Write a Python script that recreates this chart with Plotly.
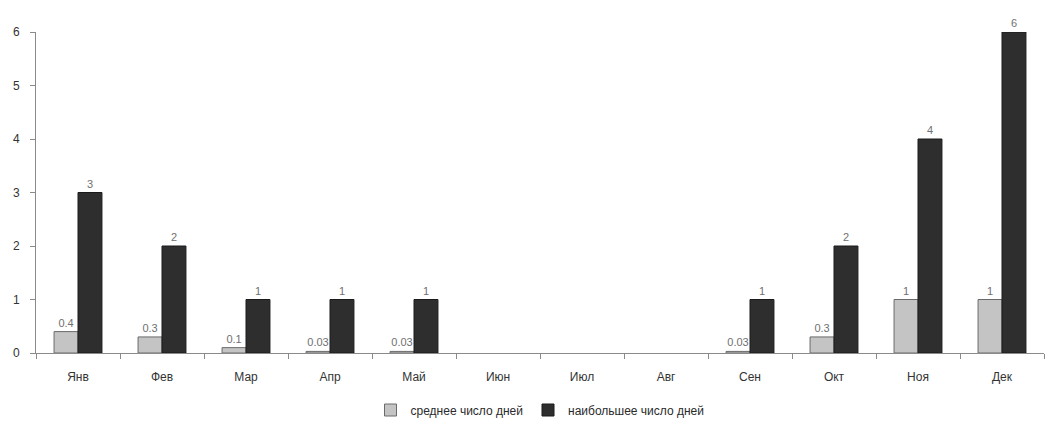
import plotly.graph_objects as go

months = ["Янв", "Фев", "Мар", "Апр", "Май", "Июн", "Июл", "Авг", "Сен", "Окт", "Ноя", "Дек"]
avg_days = [0.4, 0.3, 0.1, 0.03, 0.03, None, None, None, 0.03, 0.3, 1, 1]
max_days = [3, 2, 1, 1, 1, None, None, None, 1, 2, 4, 6]
avg_name = "среднее число дней"
max_name = "наибольшее число дней"


def labels(vals):
    return ["" if v is None else f"{v:g}" for v in vals]


fig = go.Figure()
fig.add_trace(go.Bar(
    x=months, y=avg_days, name=avg_name,
    marker=dict(color="#c4c4c4", line=dict(color="#6a6a6a", width=1)),
    text=labels(avg_days), textposition="outside",
    textfont=dict(color="#707070", size=11), cliponaxis=False,
))
fig.add_trace(go.Bar(
    x=months, y=max_days, name=max_name,
    marker=dict(color="#2e2e2e", line=dict(color="#1a1a1a", width=1)),
    text=labels(max_days), textposition="outside",
    textfont=dict(color="#707070", size=11), cliponaxis=False,
))

fig.update_layout(
    width=1046, height=424,
    margin=dict(l=36, r=2, t=32, b=71, autoexpand=False),
    barmode="group", bargap=0.43, bargroupgap=0,
    plot_bgcolor="white", paper_bgcolor="white",
    font=dict(family="Liberation Sans, Arial, sans-serif", size=11, color="#222222"),
    showlegend=True,
    legend=dict(orientation="h", x=0.5, xanchor="center",
                yref="container", y=0.033, yanchor="middle",
                font=dict(size=12, color="#2a2a2a"), itemwidth=30,
                traceorder="normal"),
)
fig.update_xaxes(
    showline=True, linecolor="#8a8a8a", linewidth=1,
    ticks="outside", tickson="boundaries", ticklen=5, tickcolor="#8a8a8a",
    showgrid=False, tickfont=dict(size=12, color="#333333"),
    ticklabelstandoff=13,
)
fig.update_yaxes(
    range=[0, 6], dtick=1, showline=True, linecolor="#8a8a8a", linewidth=1,
    ticks="outside", ticklen=5, tickcolor="#8a8a8a", showgrid=False,
    zeroline=False, tickfont=dict(size=12, color="#333333"),
    ticklabelstandoff=8,
)

fig.write_html("out.html")
